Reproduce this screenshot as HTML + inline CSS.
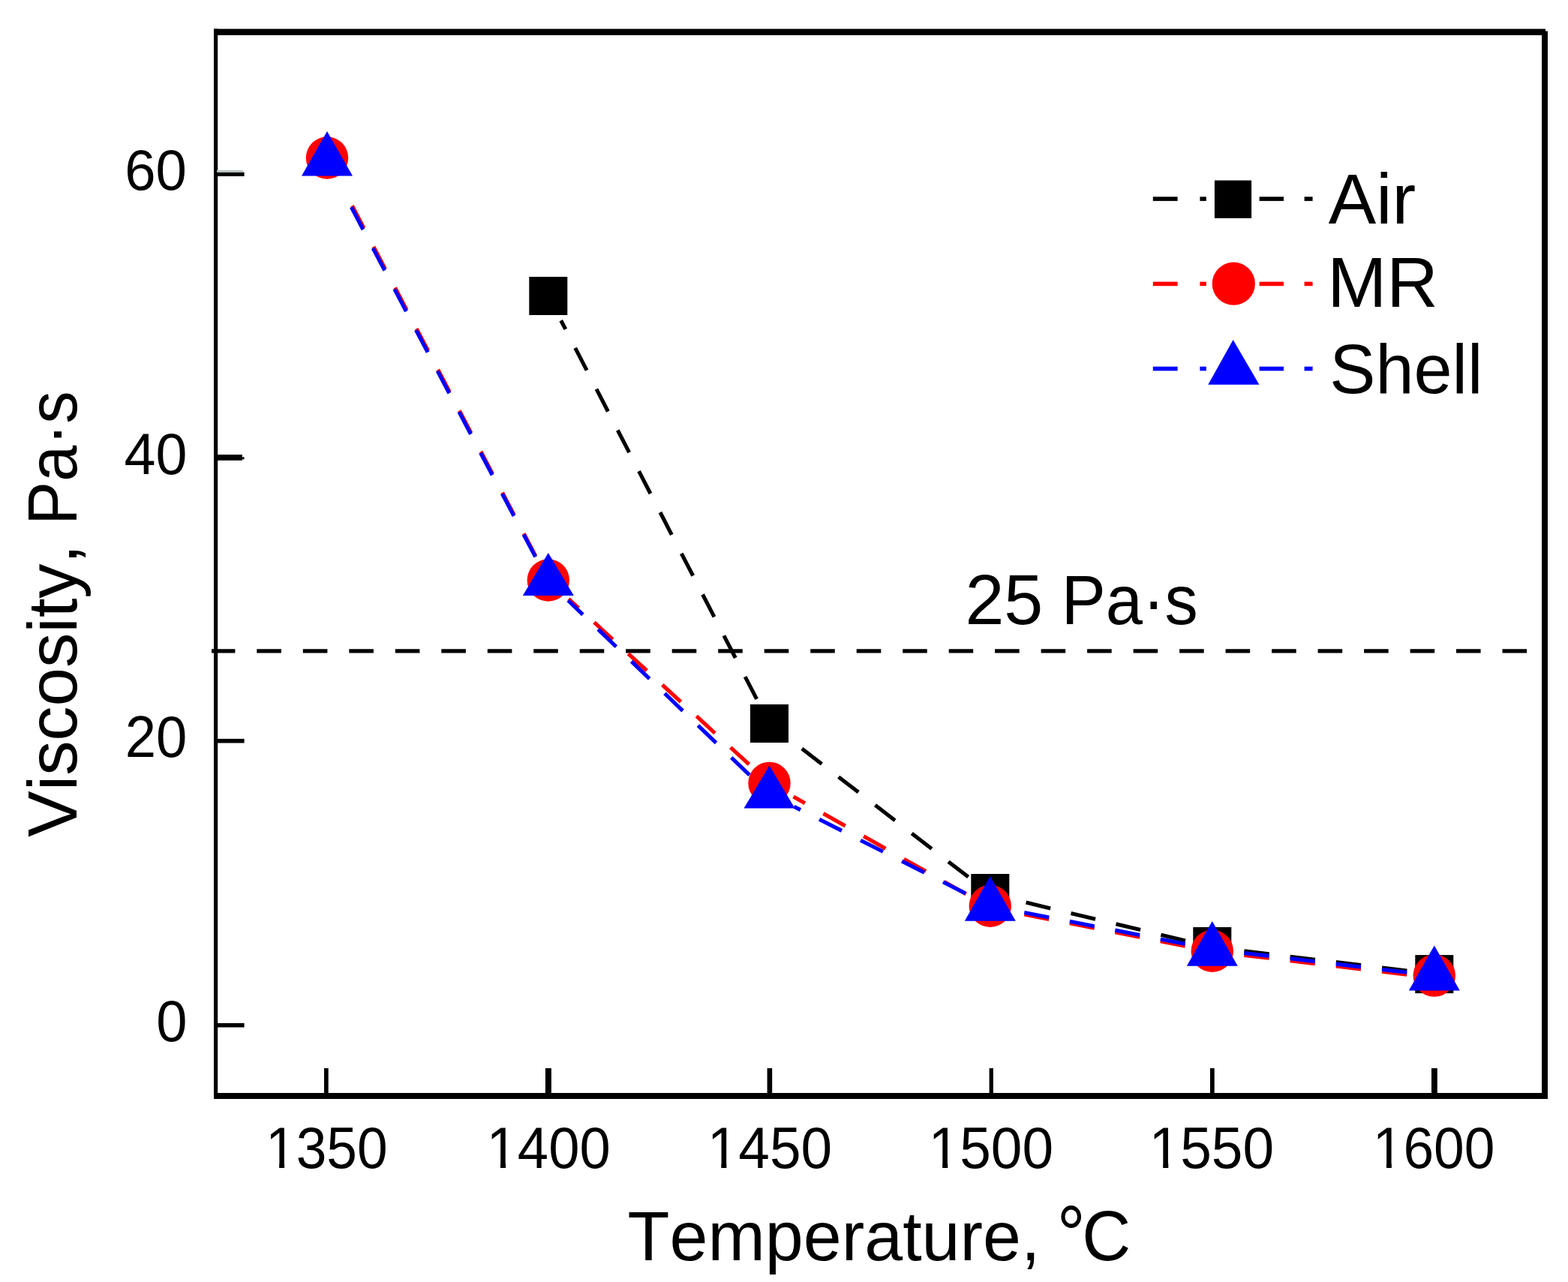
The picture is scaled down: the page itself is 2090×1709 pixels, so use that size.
<!DOCTYPE html>
<html><head><meta charset="utf-8"><title>Viscosity vs Temperature</title>
<style>html,body{margin:0;padding:0;background:#fff;}svg{display:block;}</style></head>
<body><svg xmlns="http://www.w3.org/2000/svg" width="2090" height="1709" viewBox="0 0 2090 1709">
<rect width="2090" height="1709" fill="#fff"/>
<g fill="#000">
<rect x="285" y="38.5" width="5.2" height="1426.5"/>
<rect x="285" y="38.5" width="1775" height="8.4"/>
<rect x="2055" y="41.5" width="8" height="1423.5"/>
<rect x="285" y="1457" width="1775" height="8"/>
<rect x="289" y="229.6" width="36.6" height="5.3"/>
<rect x="289" y="226.9" width="35" height="2.7" fill="#b8c4bc"/>
<rect x="289" y="606.05" width="33.8" height="7.75"/>
<rect x="322.6" y="609.3" width="2.9" height="3.0"/>
<rect x="289" y="984.9" width="36.6" height="5.6"/>
<rect x="289" y="1363.9" width="36.6" height="5.6"/>
<rect x="432.0" y="1424.0" width="5.7" height="34"/>
<rect x="726.9" y="1424.0" width="8.0" height="34"/>
<rect x="1022.6" y="1424.0" width="6.6" height="34"/>
<rect x="1318.6" y="1424.0" width="5.3" height="34"/>
<rect x="1613.0" y="1424.0" width="5.7" height="34"/>
<rect x="1908.0" y="1424.0" width="7.8" height="34"/>
</g>
<path d="M282.0 867.8H313.4M342.3 867.8H374.9M403.8 867.8H436.4M465.3 867.8H497.9M526.8 867.8H559.4M588.3 867.8H620.9M649.8 867.8H682.4M711.2 867.8H743.8M772.7 867.8H805.3M834.2 867.8H866.8M895.7 867.8H928.3M957.2 867.8H989.8M1018.7 867.8H1051.3M1080.2 867.8H1112.8M1141.7 867.8H1174.3M1203.2 867.8H1235.8M1264.7 867.8H1297.2M1326.1 867.8H1358.7M1387.6 867.8H1420.2M1449.1 867.8H1481.7M1510.6 867.8H1543.2M1572.1 867.8H1604.7M1633.6 867.8H1666.2M1695.1 867.8H1727.7M1756.6 867.8H1789.2M1818.1 867.8H1850.7M1879.6 867.8H1912.2M1941.0 867.8H1973.6M2002.5 867.8H2035.1" stroke="#000" stroke-width="5.2" fill="none"/>
<path d="M993.2 902.1L1008.6 931.8M964.9 847.3L980.3 877.0M936.6 792.5L952.0 822.3M908.3 737.8L923.7 767.5M880.0 683.0L895.3 712.8M851.6 628.2L867.0 658.0M823.3 573.5L838.7 603.2M795.0 518.7L810.4 548.5M766.7 463.9L782.1 493.7M747.7 427.2L753.8 438.9M1264.1 1148.7L1290.7 1169.1M1215.3 1111.0L1241.9 1131.5M1166.5 1073.3L1193.0 1093.8M1117.7 1035.7L1144.2 1056.1M1068.9 998.0L1095.4 1018.5M1547.4 1246.2L1580.0 1254.0M1487.5 1231.8L1520.1 1239.6M1427.5 1217.4L1460.1 1225.3M1367.6 1203.1L1400.2 1210.9M1842.0 1290.0L1875.3 1294.0M1780.8 1282.6L1814.1 1286.6M1719.6 1275.2L1752.9 1279.2M1658.4 1267.8L1691.7 1271.8" stroke="#000" stroke-width="5.1" fill="none"/>
<rect x="705.3" y="369.0" width="51" height="51" fill="#000"/>
<rect x="1000.0" y="939.0" width="51" height="51" fill="#000"/>
<rect x="1294.3" y="1165.0" width="51" height="51" fill="#000"/>
<rect x="1590.3" y="1236.0" width="51" height="51" fill="#000"/>
<rect x="1886.3" y="1273.1" width="51" height="51" fill="#000"/>
<path d="M698.2 711.2L713.7 740.9M669.6 656.6L685.1 686.3M641.0 602.0L656.5 631.7M612.4 547.4L627.9 577.1M583.8 492.8L599.3 522.4M555.2 438.1L570.7 467.8M526.6 383.5L542.1 413.2M498.0 328.9L513.5 358.6M469.4 274.3L484.9 304.0M973.7 996.4L998.4 1019.0M928.3 954.7L953.0 977.3M882.8 913.0L907.5 935.7M837.4 871.3L862.1 894.0M792.0 829.7L816.7 852.3M757.9 798.4L771.3 810.6M1258.6 1175.4L1287.7 1191.8M1204.9 1145.1L1234.1 1161.5M1151.2 1114.8L1180.4 1131.2M1097.5 1084.5L1126.7 1101.0M1057.6 1062.0L1073.0 1070.7M1546.8 1254.7L1579.7 1261.2M1486.3 1242.8L1519.2 1249.2M1425.9 1230.8L1458.7 1237.3M1365.4 1218.9L1398.2 1225.4M1842.0 1295.3L1875.3 1299.2M1780.8 1288.0L1814.0 1291.9M1719.6 1280.7L1752.8 1284.6M1658.3 1273.4L1691.6 1277.3" stroke="#f00" stroke-width="5.1" fill="none"/>
<circle cx="436.0" cy="210.5" r="28.2" fill="#f00"/>
<circle cx="730.8" cy="773.5" r="28.2" fill="#f00"/>
<circle cx="1025.5" cy="1043.9" r="28.2" fill="#f00"/>
<circle cx="1319.8" cy="1207.7" r="28.2" fill="#f00"/>
<circle cx="1615.8" cy="1267.7" r="28.2" fill="#f00"/>
<circle cx="1911.8" cy="1300.6" r="28.2" fill="#f00"/>
<path d="M698.1 712.8L713.7 742.4M669.4 658.2L685.0 687.9M640.6 603.7L656.2 633.3M611.9 549.1L627.5 578.8M583.2 494.6L598.8 524.2M554.5 440.0L570.1 469.6M525.8 385.4L541.4 415.1M497.1 330.9L512.7 360.5M468.4 276.3L484.0 306.0M974.8 1009.9L999.0 1033.1M930.4 967.1L954.6 990.3M886.0 924.4L910.1 947.6M841.6 881.6L865.7 904.8M797.2 838.9L821.3 862.1M757.3 800.5L776.9 819.3M1257.1 1175.8L1287.0 1191.0M1202.1 1148.0L1232.0 1163.1M1147.1 1120.2L1177.0 1135.3M1092.1 1092.3L1122.0 1107.4M1058.3 1075.2L1067.0 1079.6M1546.8 1251.9L1579.7 1258.3M1486.3 1240.1L1519.2 1246.5M1425.8 1228.3L1458.7 1234.7M1365.3 1216.5L1398.2 1222.9M1842.0 1292.4L1875.3 1296.3M1780.8 1285.1L1814.0 1289.0M1719.6 1277.8L1752.8 1281.7M1658.3 1270.5L1691.6 1274.4" stroke="#00f" stroke-width="5.1" fill="none"/>
<path d="M436.0 175.0L470.0 234.6L402.0 234.6Z" fill="#00f"/>
<path d="M730.8 737.0L764.8 793.9L696.8 793.9Z" fill="#00f"/>
<path d="M1025.5 1020.6L1059.5 1077.6L991.5 1077.6Z" fill="#00f"/>
<path d="M1319.8 1168.1L1353.8 1227.8L1285.8 1227.8Z" fill="#00f"/>
<path d="M1615.8 1228.1L1649.8 1287.8L1581.8 1287.8Z" fill="#00f"/>
<path d="M1911.8 1260.4L1945.8 1320.4L1877.8 1320.4Z" fill="#00f"/>
<rect x="1536.8" y="262.3" width="32.8" height="5.6" fill="#000"/><rect x="1599.4" y="262.3" width="8.4" height="5.6" fill="#000"/><rect x="1678.6" y="262.3" width="32.4" height="5.6" fill="#000"/><rect x="1738.6" y="262.3" width="11.0" height="5.6" fill="#000"/>
<rect x="1618.9" y="240.5" width="49.2" height="50.4" fill="#000"/>
<rect x="1536.8" y="375.6" width="32.8" height="5.6" fill="#f00"/><rect x="1599.4" y="375.6" width="8.4" height="5.6" fill="#f00"/><rect x="1678.6" y="375.6" width="32.4" height="5.6" fill="#f00"/><rect x="1738.6" y="375.6" width="11.0" height="5.6" fill="#f00"/>
<circle cx="1644.3" cy="378.2" r="28.6" fill="#f00"/>
<rect x="1536.8" y="488.7" width="32.8" height="5.6" fill="#00f"/><rect x="1599.4" y="488.7" width="8.4" height="5.6" fill="#00f"/><rect x="1678.6" y="488.7" width="32.4" height="5.6" fill="#00f"/><rect x="1738.6" y="488.7" width="11.0" height="5.6" fill="#00f"/>
<path d="M1643.6 453.1L1678.5 512.8L1610.3 512.8Z" fill="#00f"/>
<g font-family='"Liberation Sans", Arial, sans-serif' fill="#000" style="font-kerning:none">
<g transform="translate(166.23,252.86) scale(0.9663,0.9908)"><text x="0" y="0" font-size="77">60</text></g>
<g transform="translate(165.48,632.45) scale(0.9802,1.0018)"><text x="0" y="0" font-size="77">40</text></g>
<g transform="translate(166.68,1009.24) scale(0.9658,1.0092)"><text x="0" y="0" font-size="77">20</text></g>
<g transform="translate(208.31,1387.85) scale(0.9633,1.0000)"><text x="0" y="0" font-size="77">0</text></g>
<g transform="translate(353.98,1557.25) scale(0.9499,1.0055)"><text x="0" y="0" font-size="77">1350</text><rect x="4.37" y="-6.35" width="14.75" height="7.35" fill="#fff"/><rect x="26.42" y="-6.35" width="14.15" height="7.35" fill="#fff"/></g>
<g transform="translate(648.57,1557.15) scale(0.9642,1.0037)"><text x="0" y="0" font-size="77">1400</text><rect x="4.37" y="-6.35" width="14.75" height="7.35" fill="#fff"/><rect x="26.42" y="-6.35" width="14.15" height="7.35" fill="#fff"/></g>
<g transform="translate(942.71,1557.14) scale(0.9717,1.0110)"><text x="0" y="0" font-size="77">1450</text><rect x="4.37" y="-6.35" width="14.75" height="7.35" fill="#fff"/><rect x="26.42" y="-6.35" width="14.15" height="7.35" fill="#fff"/></g>
<g transform="translate(1237.61,1557.14) scale(0.9717,1.0110)"><text x="0" y="0" font-size="77">1500</text><rect x="4.37" y="-6.35" width="14.75" height="7.35" fill="#fff"/><rect x="26.42" y="-6.35" width="14.15" height="7.35" fill="#fff"/></g>
<g transform="translate(1531.61,1557.14) scale(0.9717,1.0110)"><text x="0" y="0" font-size="77">1550</text><rect x="4.37" y="-6.35" width="14.75" height="7.35" fill="#fff"/><rect x="26.42" y="-6.35" width="14.15" height="7.35" fill="#fff"/></g>
<g transform="translate(1829.78,1557.25) scale(0.9499,1.0055)"><text x="0" y="0" font-size="77">1600</text><rect x="4.37" y="-6.35" width="14.75" height="7.35" fill="#fff"/><rect x="26.42" y="-6.35" width="14.15" height="7.35" fill="#fff"/></g>
<g transform="translate(1286.38,832.20) scale(0.9943,1.0066)"><text x="0" y="0" font-size="94">25</text></g>
<g transform="translate(1414.80,832.20) scale(0.9416,0.9900)"><text x="0" y="0" font-size="94">Pa·s</text></g>
<g transform="translate(836.45,1680.20) scale(0.9750,0.9800)"><text x="0" y="0" font-size="94">Temperature,</text></g>
<g transform="translate(1408.64,1681.57) scale(1.0113,1.1385)"><text x="0" y="0" font-size="94">°</text></g>
<g transform="translate(1442.15,1680.20) scale(0.9580,1.0066)"><text x="0" y="0" font-size="94">C</text></g>
<g transform="translate(1770.75,297.60) scale(1.0133,1.0066)"><text x="0" y="0" font-size="94">Air</text></g>
<g transform="translate(1769.27,409.30) scale(1.0097,1.0066)"><text x="0" y="0" font-size="94">MR</text></g>
<g transform="translate(1772.35,523.70) scale(0.9758,0.9900)"><text x="0" y="0" font-size="94">Shell</text></g>
<g transform="translate(101.90,1115.99) rotate(-90) scale(0.9830,0.9800)"><text x="0" y="0" font-size="94">Viscosity,</text></g>
<g transform="translate(101.90,700.07) rotate(-90) scale(0.9257,0.9900)"><text x="0" y="0" font-size="94">Pa·s</text></g>
</g>
</svg></body></html>
